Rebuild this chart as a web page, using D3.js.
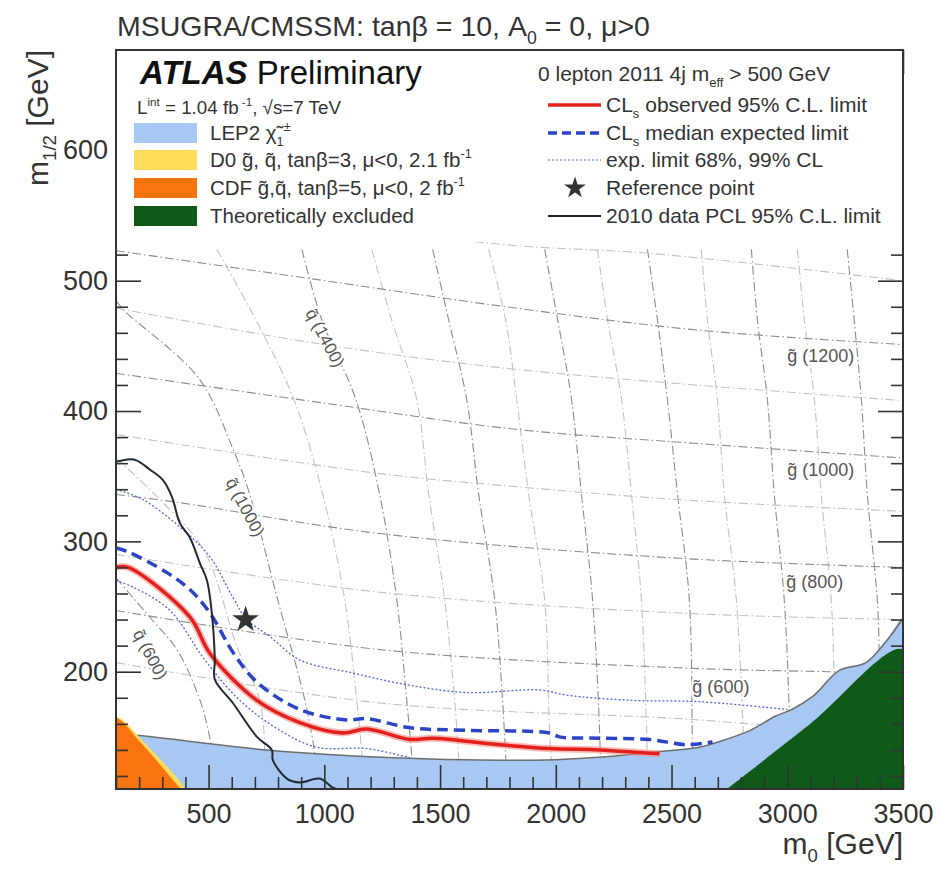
<!DOCTYPE html>
<html>
<head>
<meta charset="utf-8">
<script src="https://cdn.jsdelivr.net/npm/d3@7"></script>
<style>
  body { margin: 0; background: #fff; }
  svg { font-family: "Liberation Sans", Arial, sans-serif; }
</style>
</head>
<body>
<svg id="chart" width="950" height="870"></svg>
<script>
// ---- data (m0, m1/2 in GeV) ----
const xMajor = [500, 1000, 1500, 2000, 2500, 3000, 3500];
const yMajor = [200, 300, 400, 500, 600];

// CLs observed 95% limit
const observed = [[100,280],[152,280],[419,242],[506,214],[709,178],[894,161],[1080,153],[1183,156],
  [1369,148],[1468,149],[1757,144],[1973,141],[2189,140],[2362,138],[2448,137]];
// CLs median expected
const expected = [[100,295],[152,292],[320,276],[419,263],[506,245],[605,215],[709,192],[894,171],
  [1097,163],[1183,164],[1369,157],[1615,155],[1973,153],[2016,150],[2189,149],[2405,148],[2564,144],[2677,146]];
// expected limit bands (dotted)
const expUpper = [[100,340],[217,332],[389,309],[506,288],[605,257],[665,240],[765,227],[894,209],
  [1123,199],[1356,190],[1615,184],[1930,186],[2047,182],[2331,178],[2620,177],[3000,171]];
const expLower = [[100,270],[173,265],[333,247],[484,209],[635,178],[808,155],[968,142],[1183,141],[1369,134]];
// 2010 data PCL limit
const pcl2010 = [[100,361],[160,363],[191,362],[247,355],[303,347],[342,334],[376,314],[419,303],[463,283],
  [493,270],[514,245],[527,209],[527,194],[605,176],[709,150],[773,140],[778,132],[838,118],[894,115],
  [980,118],[1037,111],[1054,110]];

// excluded regions
const lep2 = [[100,152],[200,151],[750,140],[1300,134],[1750,132],[2000,132.5],[2200,134.5],[2400,138],
  [2620,142],[2700,146],[2840,155],[2950,166],[3020,171],[3110,181],[3225,201],[3340,207],[3430,224],[3500,241]];
const d0 = [[100,165],[135,162],[210,148],[290,133],[372,117],[400,110]];
const cdf = [[100,164],[125,162],[200,147],[280,131],[355,115],[380,110]];
const theory = [[2740,110],[3100,160],[3500,217]];

const refPoint = [660, 240];

// squark mass contours
const squarkMasses = [600, 800, 1000, 1200, 1400, 1600, 1800, 2000, 2200, 2400, 2600, 2800, 3000, 3200, 3400];
const squarkLines = [
  [[100,272],[250,241],[363,217],[463,178],[510,145],[540,110]],
  [[100,364],[290,332],[480,293],[627,217],[721,178],[745,130],[750,110]],
  [[100,485],[130,478],[458,425],[605,371],[678,336],[799,255],[916,178],[965,130],[975,110]],
  [[536,524],[704,470],[868,409],[993,336],[1088,255],[1140,178],[1165,130],[1170,110]],
  [[903,524],[989,470],[1136,409],[1239,336],[1313,255],[1356,178],[1380,130],[1385,110]],
  [[1205,524],[1291,470],[1399,409],[1451,336],[1520,255],[1563,178],[1582,130],[1586,110]],
  [[1468,524],[1537,470],[1615,409],[1667,336],[1736,255],[1770,178],[1790,110]],
  [[1710,524],[1783,470],[1831,409],[1883,336],[1952,255],[1973,155],[1990,110]],
  [[1952,524],[2008,470],[2068,409],[2111,336],[2159,255],[2189,155],[2195,110]],
  [[2180,524],[2224,470],[2284,409],[2327,336],[2370,255],[2392,155],[2398,110]],
  [[2396,524],[2439,470],[2482,409],[2526,336],[2577,255],[2590,148],[2595,110]],
  [[2629,524],[2655,470],[2698,409],[2728,336],[2780,255],[2810,150],[2815,110]],
  [[2845,524],[2871,470],[2914,409],[2944,336],[2987,255],[3009,167],[3015,110]],
  [[3044,524],[3074,470],[3117,409],[3147,336],[3190,255],[3203,186],[3210,110]],
  [[3259,524],[3289,470],[3320,409],[3346,336],[3389,255],[3397,217],[3405,110]]
];

// gluino mass contours
const gluinoMasses = [500, 600, 700, 800, 900, 1000, 1100, 1200, 1300];
const gluinoLines = [
  [[100,207],[1239,176],[2534,164],[3000,158],[3500,155]],
  [[100,247],[1239,217],[2534,203],[3182,200],[3500,199]],
  [[100,290],[1239,261],[2534,245],[3500,240]],
  [[100,336],[363,330],[1239,306],[2534,287],[3500,280]],
  [[100,382],[1239,352],[1826,342],[2534,332],[3500,323]],
  [[100,429],[963,407],[1826,386],[2620,375],[3500,364]],
  [[100,479],[963,452],[1826,432],[3500,408]],
  [[100,523],[963,501],[1826,479],[2620,462],[3500,451]],
  [[100,572],[1200,540],[1822,527],[2405,521],[3500,500]]
];

// contour labels (position in m0, m1/2)
const squarkLabels = [["q̃ (600)", 247, 213], ["q̃ (1000)", 657, 326], ["q̃ (1400)", 1002, 456]];
const gluinoLabels = [["g̃ (1200)", 3000, 438], ["g̃ (1000)", 3000, 350], ["g̃ (800)", 2996, 264], ["g̃ (600)", 2590, 184]];

// legends
const leftNames = [
  [["LEP2 χ̃", 0], ["1", -1], ["±", 1]],
  [["D0 g̃, q̃, tanβ=3, μ<0, 2.1 fb", 0], ["-1", 1]],
  [["CDF g̃,q̃, tanβ=5, μ<0, 2 fb", 0], ["-1", 1]],
  [["Theoretically excluded", 0]]
];
const leftColors = ["#a8c8f4", "#ffdc5a", "#f9730f", "#0f5a19"];
const rightNames = [
  [["CL", 0], ["s", -1], [" observed 95% C.L. limit", 0]],
  [["CL", 0], ["s", -1], [" median expected limit", 0]],
  [["exp. limit 68%, 99% CL", 0]],
  [["Reference point", 0]],
  [["2010 data PCL 95% C.L. limit", 0]]
];

// ---- layout ----
const svg = d3.select("#chart");
const ink = "#333";
const x = d3.scaleLinear().domain([100, 3500]).range([116, 903]);
const y = d3.scaleLinear().domain([110, 677]).range([789, 50]);
const line = d3.line().x(d => x(d[0])).y(d => y(d[1])).curve(d3.curveCatmullRom);
const area = pts => line([[pts[0][0], 110], ...pts, [pts[pts.length - 1][0], 110]]);

// text with sub/superscripts
function rich(t, parts, size) {
  let shift = 0;
  parts.forEach(([s, m]) => {
    const target = m === 1 ? -0.42 * size : m === -1 ? 0.27 * size : 0;
    t.append("tspan").attr("dy", target - shift)
      .attr("font-size", m ? size * 0.62 : size).text(s);
    shift = target;
  });
  return t;
}

svg.append("defs").append("clipPath").attr("id", "plot")
  .append("rect").attr("x", 116).attr("y", 50).attr("width", 787).attr("height", 739);

const plot = svg.append("g").attr("clip-path", "url(#plot)");

// grid contours
plot.selectAll(".sq").data(squarkLines).join("path")
  .attr("d", line).attr("fill", "none")
  .attr("stroke", (d, i) => squarkMasses[i] % 400 === 200 ? "#8c8c8c" : "#c2c2c2")
  .attr("stroke-width", 1.1).attr("stroke-dasharray", "9,3,1.5,3");
plot.selectAll(".gl").data(gluinoLines).join("path")
  .attr("d", line).attr("fill", "none")
  .attr("stroke", (d, i) => gluinoMasses[i] % 200 === 0 ? "#8c8c8c" : "#c2c2c2")
  .attr("stroke-width", 1.1).attr("stroke-dasharray", "9,3,1.5,3");

// contour labels
plot.selectAll(".sql").data(squarkLabels).join("text")
  .attr("transform", d => `translate(${x(d[1])},${y(d[2])}) rotate(62)`)
  .attr("text-anchor", "middle").attr("dominant-baseline", "central")
  .attr("font-size", 17).attr("fill", "#555")
  .attr("stroke", "#fff").attr("stroke-width", 4).attr("paint-order", "stroke")
  .text(d => d[0]);
plot.selectAll(".gll").data(gluinoLabels).join("text")
  .attr("x", d => x(d[1])).attr("y", d => y(d[2]))
  .attr("font-size", 18).attr("fill", "#555")
  .attr("stroke", "#fff").attr("stroke-width", 4).attr("paint-order", "stroke")
  .text(d => d[0]);

// excluded regions
plot.append("path").attr("d", area(lep2)).attr("fill", leftColors[0]);
plot.append("path").attr("d", line(lep2)).attr("fill", "none").attr("stroke", "#6d6d6d").attr("stroke-width", 1.5);
plot.append("path").attr("d", area(d0)).attr("fill", leftColors[1]);
plot.append("path").attr("d", area(cdf)).attr("fill", leftColors[2]);
plot.append("path").attr("d", area(theory)).attr("fill", leftColors[3]);

// limit curves
[expUpper, expLower].forEach(c => plot.append("path").attr("d", line(c)).attr("fill", "none")
  .attr("stroke", "#5566d8").attr("stroke-width", 1.3).attr("stroke-dasharray", "2,2"));
plot.append("path").attr("d", line(expected)).attr("fill", "none")
  .attr("stroke", "#2b44c6").attr("stroke-width", 3.5).attr("stroke-dasharray", "11,6");
plot.append("path").attr("d", line(observed)).attr("fill", "none")
  .attr("stroke", "#f3908a").attr("stroke-width", 7).attr("opacity", 0.6);
plot.append("path").attr("d", line(observed)).attr("fill", "none")
  .attr("stroke", "#e3201b").attr("stroke-width", 3.5);
plot.append("path").attr("d", line(pcl2010)).attr("fill", "none")
  .attr("stroke", "#1f2a33").attr("stroke-width", 2);

plot.append("path").attr("d", d3.symbol(d3.symbolStar, 220)())
  .attr("transform", `translate(${x(refPoint[0])},${y(refPoint[1])})`).attr("fill", ink);

// ticks (inside, all four sides)
function axis(gen, tr, size, vals, labels, pad) {
  const g = svg.append("g").attr("transform", tr)
    .call(gen.tickValues(vals).tickSize(-size).tickPadding(pad)
      .tickFormat(labels ? d3.format("d") : ""));
  g.select(".domain").remove();
  g.selectAll("line").attr("stroke", ink).attr("stroke-width", 1.6);
  g.attr("font-size", 27).attr("font-family", "Liberation Sans, Arial, sans-serif");
  g.selectAll("text").attr("fill", ink);
}
const xMinor = d3.range(100, 3501, 100).filter(v => v % 500);
const yMinor = d3.range(120, 677, 20).filter(v => v % 100);
axis(d3.axisBottom(x), "translate(0,789)", 24, xMajor, true, 15);
axis(d3.axisBottom(x), "translate(0,789)", 12, xMinor, false, 0);
axis(d3.axisTop(x), "translate(0,50)", 24, xMajor, false, 0);
axis(d3.axisTop(x), "translate(0,50)", 12, xMinor, false, 0);
axis(d3.axisLeft(y), "translate(116,0)", 25, yMajor, true, 8);
axis(d3.axisLeft(y), "translate(116,0)", 12, yMinor, false, 0);
axis(d3.axisRight(y), "translate(903,0)", 25, yMajor, false, 0);
axis(d3.axisRight(y), "translate(903,0)", 12, yMinor, false, 0);

// legend background, frame
svg.append("rect").attr("x", 117).attr("y", 51).attr("width", 785).attr("height", 191).attr("fill", "#fff");
svg.append("rect").attr("x", 116).attr("y", 50).attr("width", 787).attr("height", 739)
  .attr("fill", "none").attr("stroke", ink).attr("stroke-width", 2);

// titles
rich(svg.append("text").attr("x", 117).attr("y", 36).attr("fill", ink),
  [["MSUGRA/CMSSM: tanβ = 10, A", 0], ["0", -1], [" = 0, μ>0", 0]], 28.5);
rich(svg.append("text").attr("x", 903).attr("y", 854).attr("text-anchor", "end").attr("fill", ink),
  [["m", 0], ["0", -1], [" [GeV]", 0]], 30);
rich(svg.append("text").attr("transform", "translate(48,50) rotate(-90)").attr("text-anchor", "end").attr("fill", ink),
  [["m", 0], ["1/2", -1], [" [GeV]", 0]], 30);

// left legend
const atlas = svg.append("text").attr("x", 140).attr("y", 84).attr("font-size", 33).attr("fill", "#111");
atlas.append("tspan").attr("font-weight", "bold").attr("font-style", "italic").text("ATLAS");
atlas.append("tspan").text(" Preliminary");
rich(svg.append("text").attr("x", 137).attr("y", 114).attr("fill", ink),
  [["L", 0], ["int", 1], [" = 1.04 fb", 0], [" -1", 1], [", √s=7 TeV", 0]], 18.8);

const rowY = [133, 160, 188, 216];
leftNames.forEach((n, i) => {
  svg.append("rect").attr("x", 134).attr("y", rowY[i] - 10).attr("width", 63).attr("height", 20)
    .attr("fill", leftColors[i]);
  rich(svg.append("text").attr("x", 210).attr("y", rowY[i] + 7).attr("fill", ink), n, 20.5);
});

// right legend
rich(svg.append("text").attr("x", 538).attr("y", 81).attr("fill", ink),
  [["0 lepton 2011 4j m", 0], ["eff", -1], [" > 500 GeV", 0]], 21);
const rY = [105, 133, 160, 188, 216];
const sample = (i, stroke, w, dash) => svg.append("line").attr("x1", 548).attr("x2", 601)
  .attr("y1", rY[i]).attr("y2", rY[i]).attr("stroke", stroke).attr("stroke-width", w)
  .attr("stroke-dasharray", dash);
sample(0, "#e3201b", 3.5, null);
sample(1, "#2b44c6", 3.5, "9,5");
sample(2, "#8a96e0", 1.3, "2,2");
svg.append("path").attr("d", d3.symbol(d3.symbolStar, 150)())
  .attr("transform", `translate(575,${rY[3]})`).attr("fill", ink);
sample(4, "#222", 2, null);
rightNames.forEach((n, i) => {
  rich(svg.append("text").attr("x", 606).attr("y", rY[i] + 7).attr("fill", ink), n, 21);
});
</script>
</body>
</html>
